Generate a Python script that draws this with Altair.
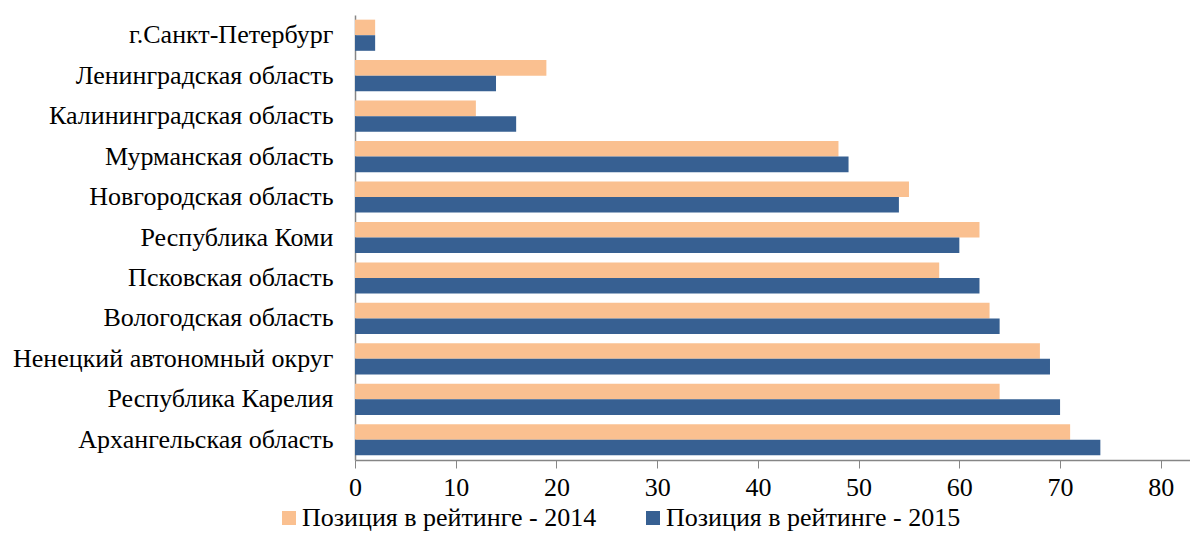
import altair as alt
import pandas as pd

regions = [
    "г.Санкт-Петербург",
    "Ленинградская область",
    "Калининградская область",
    "Мурманская область",
    "Новгородская область",
    "Республика Коми",
    "Псковская область",
    "Вологодская область",
    "Ненецкий автономный округ",
    "Республика Карелия",
    "Архангельская область",
]
pos_2014 = [2, 19, 12, 48, 55, 62, 58, 63, 68, 64, 71]
pos_2015 = [2, 14, 16, 49, 54, 60, 62, 64, 69, 70, 74]
series = ["Позиция в рейтинге - 2014", "Позиция в рейтинге - 2015"]
colors = ["#FAC090", "#376092"]
ticks = [0, 10, 20, 30, 40, 50, 60, 70, 80]

rows = []
for r, a, b in zip(regions, pos_2014, pos_2015):
    rows.append({"region": r, "series": series[0], "value": a})
    rows.append({"region": r, "series": series[1], "value": b})
df = pd.DataFrame(rows)

FONT = "Liberation Serif"
FS = 26

chart = alt.Chart(df).mark_bar().encode(
    y=alt.Y("region:N", sort=regions,
            scale=alt.Scale(paddingInner=0.23, paddingOuter=0.115),
            axis=alt.Axis(title=None, ticks=False, labelPadding=22,
                          labelFontSize=FS, labelFont=FONT, labelColor="#000000",
                          domainColor="#868686", domainWidth=1.5, labelLimit=400)),
    yOffset=alt.YOffset("series:N", sort=series, scale=alt.Scale(paddingInner=0, paddingOuter=0)),
    x=alt.X("value:Q", scale=alt.Scale(domain=[0, 82.9], nice=False),
            axis=alt.Axis(title=None, values=ticks, grid=False, tickSize=8,
                          tickColor="#868686", domainColor="#868686", domainWidth=1.5,
                          labelFontSize=FS, labelFont=FONT, labelColor="#000000",
                          labelPadding=6, labelFlush=False)),
    color=alt.Color("series:N", sort=series,
                    scale=alt.Scale(domain=series, range=colors),
                    legend=alt.Legend(title=None, orient="none", direction="horizontal",
                                      legendX=-79, legendY=490,
                                      symbolType="square", symbolSize=196,
                                      symbolStrokeWidth=0, labelFontSize=FS,
                                      labelFont=FONT, labelColor="#000000",
                                      labelOffset=0, columnPadding=43, labelLimit=500)),
).properties(
    width=835, height=445,
    padding={"left": 347, "top": 7, "right": 0, "bottom": 72},
    autosize="none",
).configure_view(stroke=None)

chart.save("out.html", embed_options={"renderer": "svg", "actions": False})
